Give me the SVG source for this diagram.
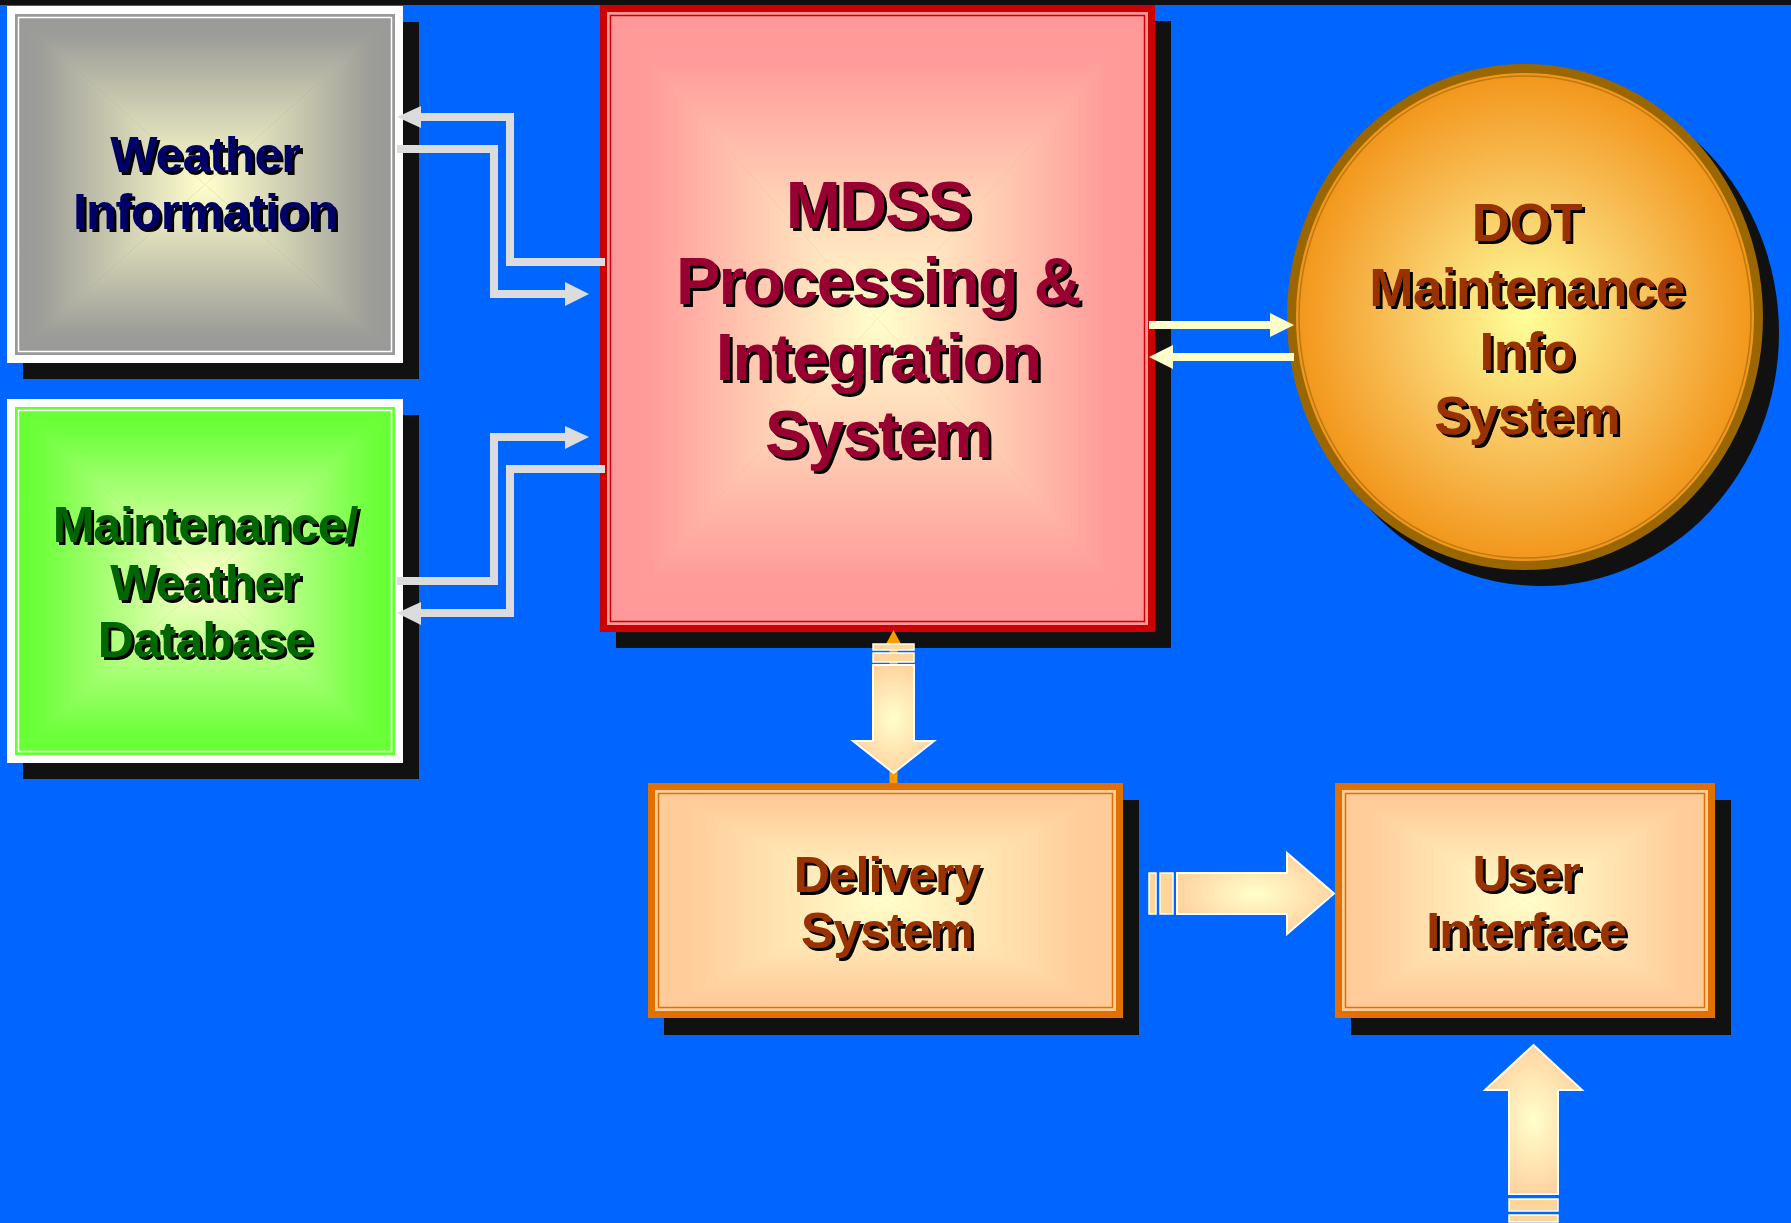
<svg xmlns="http://www.w3.org/2000/svg" xmlns:xlink="http://www.w3.org/1999/xlink" width="1791" height="1223" viewBox="0 0 1791 1223">
<style>
.lbl{font-family:"Liberation Sans",Arial,sans-serif;font-weight:bold;text-anchor:middle;filter:url(#ts)}
.f50{font-size:50px;letter-spacing:-1px}
.f66{font-size:66px;letter-spacing:-1.5px}
.f53{font-size:53px;letter-spacing:-0.5px}
.shadow{fill:#111}
.grayln{fill:none;stroke:#DCDCDC;stroke-width:8;stroke-linejoin:miter}
.grayhd{fill:#DCDCDC}
.creamln{fill:none;stroke:#FFFFCC;stroke-width:8}
.creamhd{fill:#FFFFCC}
.block{fill:url(#blockG);stroke:#fff;stroke-width:2;stroke-linejoin:miter}
.stripe{fill:#FFD699;stroke:#fff;stroke-width:1.5}
</style>
<defs>
<filter id="ts" x="-5%" y="-10%" width="115%" height="130%">
<feOffset in="SourceAlpha" dx="2.5" dy="2.5" result="o"/>
<feFlood flood-color="#000"/>
<feComposite in2="o" operator="in" result="s"/>
<feMerge><feMergeNode in="s"/><feMergeNode in="SourceGraphic"/></feMerge>
</filter>
<linearGradient id="gray"><stop offset="0" stop-color="#999999"/><stop offset="0.12" stop-color="#9C9C98"/><stop offset="1" stop-color="#FFFFCC"/></linearGradient>
<linearGradient id="green"><stop offset="0" stop-color="#66FF33"/><stop offset="0.12" stop-color="#6CFF3A"/><stop offset="1" stop-color="#FFFFCC"/></linearGradient>
<linearGradient id="pink"><stop offset="0" stop-color="#FF9999"/><stop offset="0.15" stop-color="#FF9B9A"/><stop offset="1" stop-color="#FFFFCC"/></linearGradient>
<linearGradient id="peach"><stop offset="0" stop-color="#FFCC99"/><stop offset="0.15" stop-color="#FFCD9A"/><stop offset="1" stop-color="#FFFFCC"/></linearGradient>
<linearGradient id="grayT" xlink:href="#gray" x1="0" y1="0" x2="0" y2="1"/>
<linearGradient id="grayB" xlink:href="#gray" x1="0" y1="1" x2="0" y2="0"/>
<linearGradient id="grayL" xlink:href="#gray" x1="0" y1="0" x2="1" y2="0"/>
<linearGradient id="grayR" xlink:href="#gray" x1="1" y1="0" x2="0" y2="0"/>
<linearGradient id="greenT" xlink:href="#green" x1="0" y1="0" x2="0" y2="1"/>
<linearGradient id="greenB" xlink:href="#green" x1="0" y1="1" x2="0" y2="0"/>
<linearGradient id="greenL" xlink:href="#green" x1="0" y1="0" x2="1" y2="0"/>
<linearGradient id="greenR" xlink:href="#green" x1="1" y1="0" x2="0" y2="0"/>
<linearGradient id="pinkT" xlink:href="#pink" x1="0" y1="0" x2="0" y2="1"/>
<linearGradient id="pinkB" xlink:href="#pink" x1="0" y1="1" x2="0" y2="0"/>
<linearGradient id="pinkL" xlink:href="#pink" x1="0" y1="0" x2="1" y2="0"/>
<linearGradient id="pinkR" xlink:href="#pink" x1="1" y1="0" x2="0" y2="0"/>
<linearGradient id="peachT" xlink:href="#peach" x1="0" y1="0" x2="0" y2="1"/>
<linearGradient id="peachB" xlink:href="#peach" x1="0" y1="1" x2="0" y2="0"/>
<linearGradient id="peachL" xlink:href="#peach" x1="0" y1="0" x2="1" y2="0"/>
<linearGradient id="peachR" xlink:href="#peach" x1="1" y1="0" x2="0" y2="0"/>
<radialGradient id="dotG" cx="0.5" cy="0.5" r="0.5">
<stop offset="0" stop-color="#FFFF99"/><stop offset="0.55" stop-color="#F8C15A"/><stop offset="1" stop-color="#F29418"/>
</radialGradient>
<radialGradient id="blockG" cx="0.5" cy="0.5" r="0.6">
<stop offset="0" stop-color="#FFFFCC"/><stop offset="1" stop-color="#FFCC99"/>
</radialGradient>
</defs>

<rect x="0" y="0" width="1791" height="1223" fill="#0066FF"/>
<rect x="0" y="0" width="1791" height="5" fill="#111"/>

<g id="weather-information">
<rect class="shadow" x="23" y="22" width="396" height="357"/>
<rect x="15" y="14" width="380" height="341" fill="#999"/>
<polygon points="15,14 395,14 205,184.5" fill="url(#grayT)"/>
<polygon points="15,355 395,355 205,184.5" fill="url(#grayB)"/>
<polygon points="15,14 15,355 205,184.5" fill="url(#grayL)"/>
<polygon points="395,14 395,355 205,184.5" fill="url(#grayR)"/>
<rect x="11" y="10" width="388" height="349" fill="none" stroke="#fff" stroke-width="8"/>
<rect x="18.5" y="17.5" width="373" height="334" fill="none" stroke="#fff" stroke-width="1.5"/>
<text class="lbl f50" fill="#000066"><tspan x="205" y="172">Weather</tspan><tspan x="205" y="229">Information</tspan></text>
</g>

<g id="maintenance-weather-database">
<rect class="shadow" x="23" y="415" width="396" height="364"/>
<rect x="15" y="407" width="380" height="348" fill="#66FF33"/>
<polygon points="15,407 395,407 205,581" fill="url(#greenT)"/>
<polygon points="15,755 395,755 205,581" fill="url(#greenB)"/>
<polygon points="15,407 15,755 205,581" fill="url(#greenL)"/>
<polygon points="395,407 395,755 205,581" fill="url(#greenR)"/>
<rect x="11" y="403" width="388" height="356" fill="none" stroke="#fff" stroke-width="8"/>
<rect x="18.5" y="410.5" width="373" height="341" fill="none" stroke="#fff" stroke-width="1.5"/>
<text class="lbl f50" fill="#006600"><tspan x="205" y="542">Maintenance/</tspan><tspan x="205" y="600">Weather</tspan><tspan x="205" y="657">Database</tspan></text>
</g>

<g id="mdss">
<rect class="shadow" x="616" y="21" width="555" height="627"/>
<rect x="607" y="12" width="541" height="613" fill="#FF9999"/>
<polygon points="607,12 1148,12 877.5,318.5" fill="url(#pinkT)"/>
<polygon points="607,625 1148,625 877.5,318.5" fill="url(#pinkB)"/>
<polygon points="607,12 607,625 877.5,318.5" fill="url(#pinkL)"/>
<polygon points="1148,12 1148,625 877.5,318.5" fill="url(#pinkR)"/>
<rect x="603.5" y="8.5" width="548" height="620" fill="none" stroke="#CC0000" stroke-width="7"/>
<rect x="610.5" y="15.5" width="534" height="606" fill="none" stroke="#CC0000" stroke-width="1.5"/>
<text class="lbl f66" fill="#990033"><tspan x="878" y="228">MDSS</tspan><tspan x="878" y="304">Processing &amp;</tspan><tspan x="878" y="380">Integration</tspan><tspan x="878" y="457">System</tspan></text>
</g>

<g id="dot-maintenance-info-system">
<ellipse class="shadow" cx="1541" cy="333" rx="238" ry="253"/>
<ellipse cx="1525" cy="317" rx="233.5" ry="248.5" fill="url(#dotG)" stroke="#996600" stroke-width="9"/>
<ellipse cx="1525" cy="317" rx="226" ry="241" fill="none" stroke="#B97A12" stroke-width="1.5"/>
<text class="lbl f53" fill="#993300"><tspan x="1527" y="241">DOT</tspan><tspan x="1527" y="305.5">Maintenance</tspan><tspan x="1527" y="370">Info</tspan><tspan x="1527" y="434">System</tspan></text>
</g>

<g id="delivery-system">
<rect class="shadow" x="664" y="800" width="475" height="235"/>
<rect x="655" y="790" width="461" height="221" fill="#FFCC99"/>
<polygon points="655,790 1116,790 885.5,900.5" fill="url(#peachT)"/>
<polygon points="655,1011 1116,1011 885.5,900.5" fill="url(#peachB)"/>
<polygon points="655,790 655,1011 885.5,900.5" fill="url(#peachL)"/>
<polygon points="1116,790 1116,1011 885.5,900.5" fill="url(#peachR)"/>
<rect x="651.5" y="786.5" width="468" height="228" fill="none" stroke="#E07000" stroke-width="7"/>
<rect x="658.5" y="793.5" width="454" height="214" fill="none" stroke="#E07000" stroke-width="1.5"/>
<text class="lbl f50" fill="#993300"><tspan x="887" y="892">Delivery</tspan><tspan x="887" y="948">System</tspan></text>
</g>

<g id="user-interface">
<rect class="shadow" x="1351" y="800" width="380" height="235"/>
<rect x="1342" y="790" width="366" height="221" fill="#FFCC99"/>
<polygon points="1342,790 1708,790 1525,900.5" fill="url(#peachT)"/>
<polygon points="1342,1011 1708,1011 1525,900.5" fill="url(#peachB)"/>
<polygon points="1342,790 1342,1011 1525,900.5" fill="url(#peachL)"/>
<polygon points="1708,790 1708,1011 1525,900.5" fill="url(#peachR)"/>
<rect x="1338.5" y="786.5" width="373" height="228" fill="none" stroke="#E07000" stroke-width="7"/>
<rect x="1345.5" y="793.5" width="359" height="214" fill="none" stroke="#E07000" stroke-width="1.5"/>
<text class="lbl f50" fill="#993300"><tspan x="1526" y="891">User</tspan><tspan x="1526" y="948">Interface</tspan></text>
</g>

<g id="connectors">
<!-- MDSS -> Weather Information -->
<polyline class="grayln" points="605,262 510,262 510,117 420,117"/>
<polygon class="grayhd" points="397,117 421,106 421,128"/>
<!-- Weather Information -> MDSS -->
<polyline class="grayln" points="397,149 494,149 494,294 566,294"/>
<polygon class="grayhd" points="589,294 565,282 565,306"/>
<!-- Maintenance DB -> MDSS -->
<polyline class="grayln" points="397,581 494,581 494,437 566,437"/>
<polygon class="grayhd" points="589,437 565,426 565,449"/>
<!-- MDSS -> Maintenance DB -->
<polyline class="grayln" points="605,469 510,469 510,613 420,613"/>
<polygon class="grayhd" points="397,613 421,602 421,625"/>
<!-- MDSS <-> DOT -->
<line class="creamln" x1="1149" y1="325" x2="1271" y2="325"/>
<polygon class="creamhd" points="1294,325 1270,313 1270,337"/>
<line class="creamln" x1="1294" y1="357" x2="1172" y2="357"/>
<polygon class="creamhd" points="1149,357 1173,345 1173,369"/>
<!-- MDSS <-> Delivery (orange line + block arrow) -->
<line x1="893.5" y1="640" x2="893.5" y2="783" stroke="#FF9900" stroke-width="8"/>
<polygon points="893.5,630 886,644 901,644" fill="#FF9900"/>
<rect class="stripe" x="873" y="644" width="41" height="6"/>
<rect class="stripe" x="873" y="653" width="41" height="9"/>
<polygon class="block" points="873,665 914,665 914,741 934,741 893.5,773 853,741 873,741"/>
<!-- Delivery -> User Interface -->
<rect class="stripe" x="1149" y="873" width="7" height="41"/>
<rect class="stripe" x="1160" y="873" width="13" height="41"/>
<polygon class="block" points="1177,873 1287,873 1287,853 1334,893.5 1287,934 1287,914 1177,914"/>
<!-- input -> User Interface -->
<polygon class="block" points="1533.5,1045 1582,1090 1558,1090 1558,1194 1509,1194 1509,1090 1485,1090"/>
<rect class="stripe" x="1509" y="1199" width="49" height="12"/>
<rect class="stripe" x="1509" y="1215" width="49" height="7"/>
</g>
</svg>
